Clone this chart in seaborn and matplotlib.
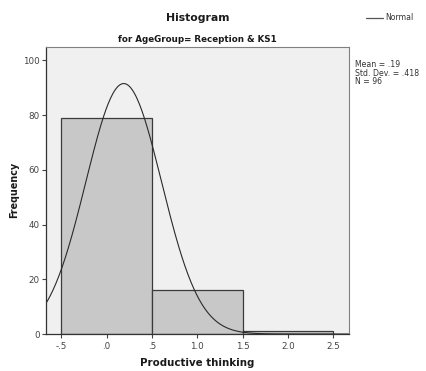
import numpy as np
import matplotlib
matplotlib.use("Agg")
import matplotlib.pyplot as plt
import seaborn as sns

# Productive thinking scores and how many pupils got each score
scores = [0, 1, 2]
counts = [79, 16, 1]
bin_edges = [-0.5, 0.5, 1.5, 2.5]
x_ticks = [-0.5, 0.0, 0.5, 1.0, 1.5, 2.0, 2.5]
x_tick_labels = ["-.5", ".0", ".5", "1.0", "1.5", "2.0", "2.5"]
y_ticks = [0, 20, 40, 60, 80, 100]

sns.set_theme(style="white")
plt.rcParams["font.family"] = ["DejaVu Sans"]

fig = plt.figure(figsize=(4.26, 3.71), dpi=100)
ax = fig.add_axes([0.108, 0.0997, 0.7105, 0.7743])
ax.set_facecolor("#f0f0f0")

sns.histplot(x=scores, weights=counts, bins=bin_edges, ax=ax,
             color="#c8c8c8", alpha=1.0, edgecolor="#3a3a3a", linewidth=0.9)

# Normal curve scaled to the histogram
vals = np.repeat(scores, counts)
n = len(vals)
mean = vals.mean()
sd = vals.std(ddof=1)
width = bin_edges[1] - bin_edges[0]
xs = np.linspace(-0.67, 2.67, 400)
ys = n * width * np.exp(-0.5 * ((xs - mean) / sd) ** 2) / (sd * np.sqrt(2 * np.pi))
sns.lineplot(x=xs, y=ys, ax=ax, color="#2a2a2a", linewidth=0.8)

ax.set_xlim(-0.67, 2.67)
ax.set_ylim(0, 105)
ax.set_xticks(x_ticks)
ax.set_xticklabels(x_tick_labels)
ax.set_yticks(y_ticks)
ax.tick_params(axis="both", labelsize=6.3, colors="#444444", length=3, width=0.8,
               direction="out", bottom=True, left=True, pad=1.5)
ax.tick_params(axis="x", pad=2.5)
for side in ["top", "right"]:
    ax.spines[side].set_color("#808080")
    ax.spines[side].set_linewidth(0.8)
for side in ["left", "bottom"]:
    ax.spines[side].set_color("#333333")
    ax.spines[side].set_linewidth(0.9)

ax.set_xlabel("Productive thinking", fontsize=7.4, fontweight="bold", color="#1a1a1a", labelpad=5)
ax.set_ylabel("Frequency", fontsize=6.9, fontweight="bold", color="#1a1a1a", labelpad=3)

fig.text(0.4636, 0.951, "Histogram", ha="center", va="center", fontsize=7.8,
         fontweight="bold", color="#1a1a1a")
fig.text(0.4636, 0.893, "for AgeGroup= Reception & KS1", ha="center", va="center",
         fontsize=6.3, fontweight="bold", color="#1a1a1a")

# legend entry
fig.add_artist(plt.Line2D([0.86, 0.9], [0.952, 0.952], color="#555555", linewidth=0.9))
fig.text(0.905, 0.952, "Normal", ha="left", va="center", fontsize=5.6, color="#333333")

fig.text(0.833, 0.838,
         f"Mean = {mean:.2f}".replace("0.", ".") + "\n"
         + f"Std. Dev. = {sd:.3f}".replace("0.", ".") + "\n"
         + f"N = {n}",
         ha="left", va="top", fontsize=5.6, color="#333333", linespacing=0.95)

fig.savefig("out.png", dpi=100)
